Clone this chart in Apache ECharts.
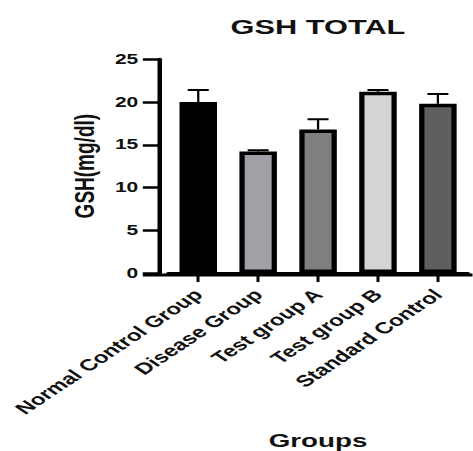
<!DOCTYPE html>
<html>
<head>
<meta charset="utf-8">
<script src="https://cdn.jsdelivr.net/npm/echarts@6/dist/echarts.min.js"></script>
<style>
  html, body { margin: 0; padding: 0; background: #fff; overflow: hidden; }
  /* The figure uses a horizontally widened lettering and layout: the chart is laid out
     in a narrower box and stretched sideways to the full page width. */
  #chart { width: 315.33px; height: 451px; transform: scaleX(1.5); transform-origin: 0 0; }
</style>
</head>
<body>
<div id="chart"></div>
<script>
// Group names on the x axis
const categories = ['Normal Control Group', 'Disease Group', 'Test group A', 'Test group B', 'Standard Control'];
// Mean total GSH (mg/dl) for each group
const means = [20.0, 14.2, 16.8, 21.2, 19.8];
// Upper error (SD) for each group
const errors = [1.4, 0.15, 1.2, 0.2, 1.15];
// Fill colour of each bar
const barColors = ['#000000', '#a0a0a7', '#7f7f7f', '#d4d4d4', '#5f5f5f'];
// Y axis tick values
const yTicks = [0, 5, 10, 15, 20, 25];

const W = 315.33;
const gridLeft = 112.2, gridRight = 3.1, gridTop = 59.3, gridBottom = 176;
const yOffset = 6, yTickLen = 11;
const fontFamily = '"Liberation Sans", Arial, sans-serif';

const chart = echarts.init(document.getElementById('chart'), null, { renderer: 'svg' });

chart.setOption({
  animation: false,
  backgroundColor: '#ffffff',
  title: {
    text: 'GSH TOTAL',
    left: 207,
    top: 11,
    textAlign: 'center',
    textStyle: { fontFamily, fontWeight: 'bold', fontSize: 20.5, color: '#111' }
  },
  grid: { left: gridLeft, right: gridRight, top: gridTop, bottom: gridBottom },
  xAxis: {
    type: 'category',
    data: categories,
    name: 'Groups',
    nameLocation: 'middle',
    nameGap: 158,
    nameTextStyle: { fontFamily, fontWeight: 'bold', fontSize: 18.5, color: '#111' },
    axisLine: { show: true, lineStyle: { color: '#000', width: 3 } },
    axisTick: { show: true, alignWithLabel: true, length: 9, lineStyle: { color: '#000', width: 2 } },
    axisLabel: {
      interval: 0, rotate: 45, margin: 19,
      fontFamily, fontWeight: 'bold', fontSize: 16, color: '#111'
    }
  },
  yAxis: {
    type: 'value',
    min: yTicks[0],
    max: yTicks[yTicks.length - 1],
    interval: yTicks[1] - yTicks[0],
    offset: yOffset,
    name: 'GSH(mg/dl)',
    nameLocation: 'middle',
    nameGap: 26,
    nameTextStyle: { fontFamily, fontWeight: 'bold', fontSize: 19, color: '#111' },
    axisLine: { show: true, lineStyle: { color: '#000', width: 3 } },
    axisTick: { show: true, length: yTickLen, lineStyle: { color: '#000', width: 2.5 } },
    axisLabel: { margin: 14, fontFamily, fontWeight: 'bold', fontSize: 14, color: '#111' },
    splitLine: { show: false }
  },
  // baseline continues across the gap left of the offset value axis and to the right edge
  graphic: [{
    type: 'line',
    z: 0,
    shape: { x1: gridLeft - yOffset - yTickLen, y1: 451 - gridBottom, x2: W, y2: 451 - gridBottom },
    style: { stroke: '#000', lineWidth: 3 }
  }],
  series: [
    {
      type: 'custom',
      z: 1,
      data: categories.map((c, i) => [i, means[i], errors[i]]),
      renderItem: function (params, api) {
        const i = api.value(0), m = api.value(1), e = api.value(2);
        const base = api.coord([i, m]);
        const top = api.coord([i, m + e]);
        const half = 7;
        return {
          type: 'group',
          children: [
            { type: 'line', shape: { x1: base[0], y1: base[1], x2: top[0], y2: top[1] },
              style: { stroke: '#000', lineWidth: 1.5 } },
            { type: 'line', shape: { x1: top[0] - half, y1: top[1], x2: top[0] + half, y2: top[1] },
              style: { stroke: '#000', lineWidth: 2 } }
          ]
        };
      }
    },
    {
      type: 'bar',
      z: 2,
      barWidth: 25,
      data: means.map((v, i) => ({
        value: v,
        itemStyle: { color: barColors[i], borderColor: '#000', borderWidth: 3.5 }
      }))
    }
  ]
});
</script>
</body>
</html>
